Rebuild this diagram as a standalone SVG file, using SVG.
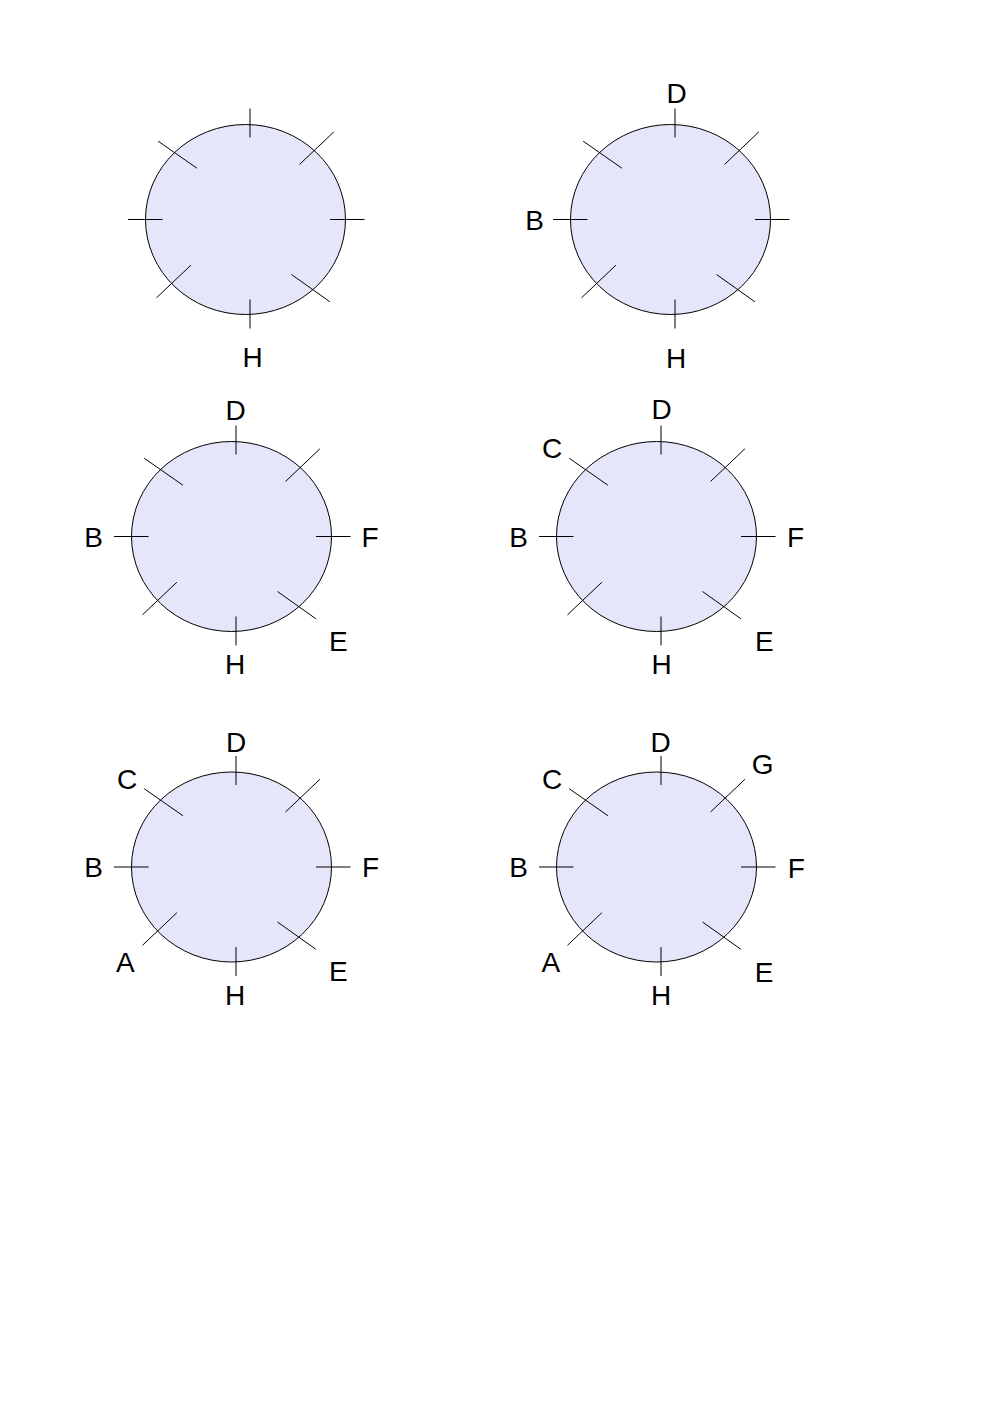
<svg xmlns="http://www.w3.org/2000/svg" xmlns:xlink="http://www.w3.org/1999/xlink" width="992" height="1403" viewBox="0 0 992 1403">
<style>
.bg{fill:#ffffff}
.dial{fill:#e6e6fa;stroke:#000000;stroke-width:1}
.tick{stroke:#000000;stroke-width:1;fill:none}
.lbl{font-family:"Liberation Sans",Arial,sans-serif;font-size:28px;fill:#000000;text-anchor:middle}
</style>
<defs>
<g id="dialShape">
<ellipse class="dial" cx="0" cy="0" rx="100" ry="95"/>
<g class="tick">
<line x1="4.5" y1="-111" x2="4.5" y2="-82"/>
<line x1="4.5" y1="80" x2="4.5" y2="109"/>
<line x1="-117.5" y1="0" x2="-83" y2="0"/>
<line x1="84.5" y1="0" x2="119" y2="0"/>
<line x1="-87.3" y1="-78.3" x2="-48.6" y2="-51.3"/>
<line x1="88.4" y1="-87.7" x2="54" y2="-55"/>
<line x1="-89" y1="78.3" x2="-54.6" y2="45.7"/>
<line x1="46" y1="55" x2="84.4" y2="82.3"/>
</g>
</g>
</defs>
<rect class="bg" x="0" y="0" width="992" height="1403"/>
<g id="dial1">
<use xlink:href="#dialShape" href="#dialShape" transform="translate(245.5,219.5)"/>
<text class="lbl" x="252.5" y="367">H</text>
</g>
<g id="dial2">
<use xlink:href="#dialShape" href="#dialShape" transform="translate(670.5,219.5)"/>
<text class="lbl" x="676.5" y="103.3">D</text>
<text class="lbl" x="534.5" y="230">B</text>
<text class="lbl" x="676" y="367.5">H</text>
</g>
<g id="dial3">
<use xlink:href="#dialShape" href="#dialShape" transform="translate(231.5,536.5)"/>
<text class="lbl" x="235.7" y="420">D</text>
<text class="lbl" x="93.5" y="546.7">B</text>
<text class="lbl" x="370" y="546.7">F</text>
<text class="lbl" x="338.3" y="651">E</text>
<text class="lbl" x="235" y="674.3">H</text>
</g>
<g id="dial4">
<use xlink:href="#dialShape" href="#dialShape" transform="translate(656.5,536.5)"/>
<text class="lbl" x="661.5" y="419.3">D</text>
<text class="lbl" x="552.2" y="457.7">C</text>
<text class="lbl" x="518.5" y="546.7">B</text>
<text class="lbl" x="795.5" y="546.7">F</text>
<text class="lbl" x="764.3" y="651">E</text>
<text class="lbl" x="661.5" y="674.3">H</text>
</g>
<g id="dial5">
<use xlink:href="#dialShape" href="#dialShape" transform="translate(231.5,867)"/>
<text class="lbl" x="236" y="751.7">D</text>
<text class="lbl" x="127.2" y="789.3">C</text>
<text class="lbl" x="93.5" y="876.7">B</text>
<text class="lbl" x="370.5" y="876.7">F</text>
<text class="lbl" x="125.3" y="972.3">A</text>
<text class="lbl" x="338.3" y="981">E</text>
<text class="lbl" x="235" y="1005">H</text>
</g>
<g id="dial6">
<use xlink:href="#dialShape" href="#dialShape" transform="translate(656.5,867)"/>
<text class="lbl" x="660.7" y="751.7">D</text>
<text class="lbl" x="762.7" y="774">G</text>
<text class="lbl" x="552.2" y="789">C</text>
<text class="lbl" x="518.5" y="876.7">B</text>
<text class="lbl" x="796.3" y="877.5">F</text>
<text class="lbl" x="550.8" y="972.3">A</text>
<text class="lbl" x="764.2" y="981.7">E</text>
<text class="lbl" x="661" y="1005">H</text>
</g>
<g id="connectors"></g>
</svg>
